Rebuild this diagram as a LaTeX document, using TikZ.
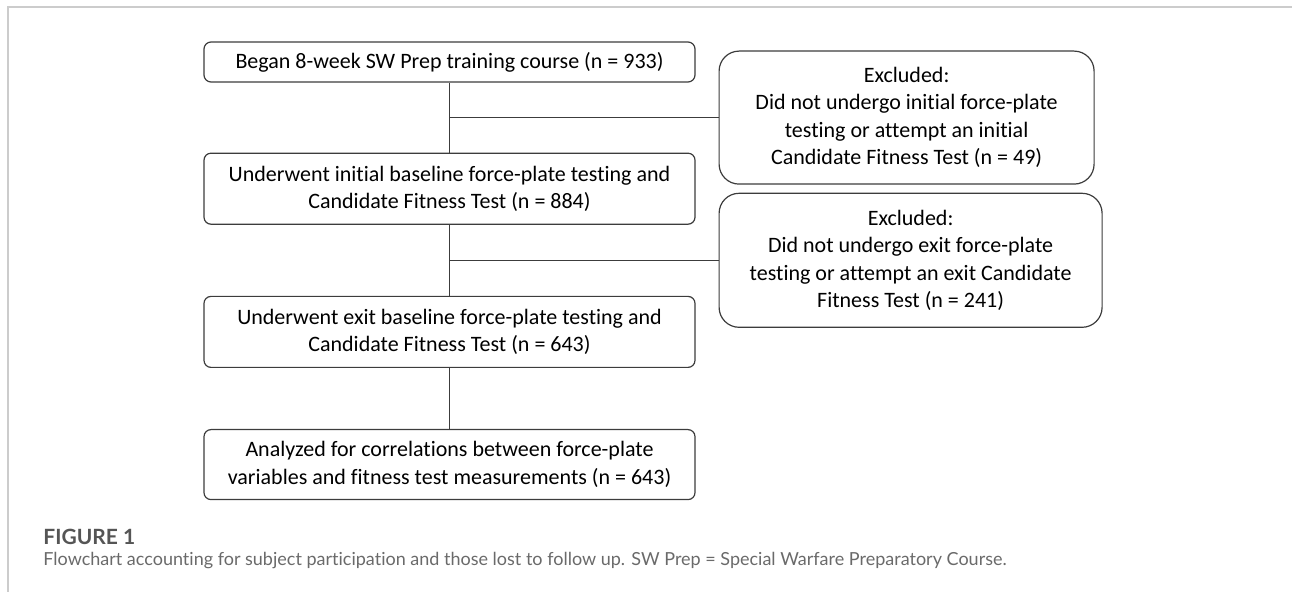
\documentclass[tikz,border=0pt]{standalone}
\usepackage{fontspec}
\setmainfont{Carlito}[Ligatures=NoCommon]
\newfontfamily\capfont{Lato}[Ligatures=NoCommon]
\usetikzlibrary{positioning,calc}
\definecolor{edge}{HTML}{3C3C3C}
\definecolor{framegray}{HTML}{CCCCCC}
\definecolor{capgray}{HTML}{555555}
\definecolor{captext}{HTML}{6A6A6A}
\tikzset{box/.style={draw=edge,line width=0.6pt,rounded corners=3.5pt,minimum width=245.5pt,align=center,inner sep=0pt,font=\fontsize{11}{13.75}\selectfont},
  excl/.style={box,rounded corners=10pt},
  link/.style={draw=edge,line width=0.6pt},
  capnode/.style={anchor=west,inner sep=0pt}}

\begin{document}
\begin{tikzpicture}
    \useasboundingbox (0,0) rectangle (646pt,-296pt);
    \draw[framegray,line width=1pt] (4pt,-296pt) -- (4pt,-3.5pt) -- (646pt,-3.5pt);
    \node[box,minimum height=20pt] (1) at (224.75pt,-31pt) {Began 8-week SW Prep training course (n = 933)};
    \node[box,minimum height=35.5pt,below=35pt of 1] (2) {Underwent initial baseline force-plate testing and\\Candidate Fitness Test (n = 884)};
    \node[box,minimum height=35.5pt,below=35.5pt of 2] (3) {Underwent exit baseline force-plate testing and\\Candidate Fitness Test (n = 643)};
    \node[box,minimum height=35pt,below=30.5pt of 3] (4) {Analyzed for correlations between force-plate\\variables and fitness test measurements (n = 643)};
    \coordinate (j1) at ($(1.south)!.5!(2.north)$);
    \coordinate (j2) at ($(2.south)!.5!(3.north)$);
    \node[excl,minimum width=187.5pt,minimum height=66.5pt,right=134.5pt of j1] (e1) {Excluded:\\Did not undergo initial force-plate\\testing or attempt an initial\\Candidate Fitness Test (n = 49)};
    \node[excl,minimum width=191.5pt,minimum height=67pt,right=134.5pt of j2] (e2) {Excluded:\\Did not undergo exit force-plate\\testing or attempt an exit Candidate\\Fitness Test (n = 241)};
    \path[link]
    (1) -- (2)
    (2) -- (3)
    (3) -- (4)
    (j1) -- (e1)
    (j2) -- (e2)
    ;
    \node[capnode,text=capgray,font=\capfont\bfseries\fontsize{10.5}{12}\selectfont] (fig) at (21.5pt,-268.5pt) {FIGURE 1};
    \node[capnode,text=captext,font=\capfont\fontsize{9}{11}\selectfont] (cap) at (21.5pt,-280.5pt) {Flowchart accounting for subject participation and those lost to follow up. SW Prep = Special Warfare Preparatory Course.};
\end{tikzpicture}
\end{document}
